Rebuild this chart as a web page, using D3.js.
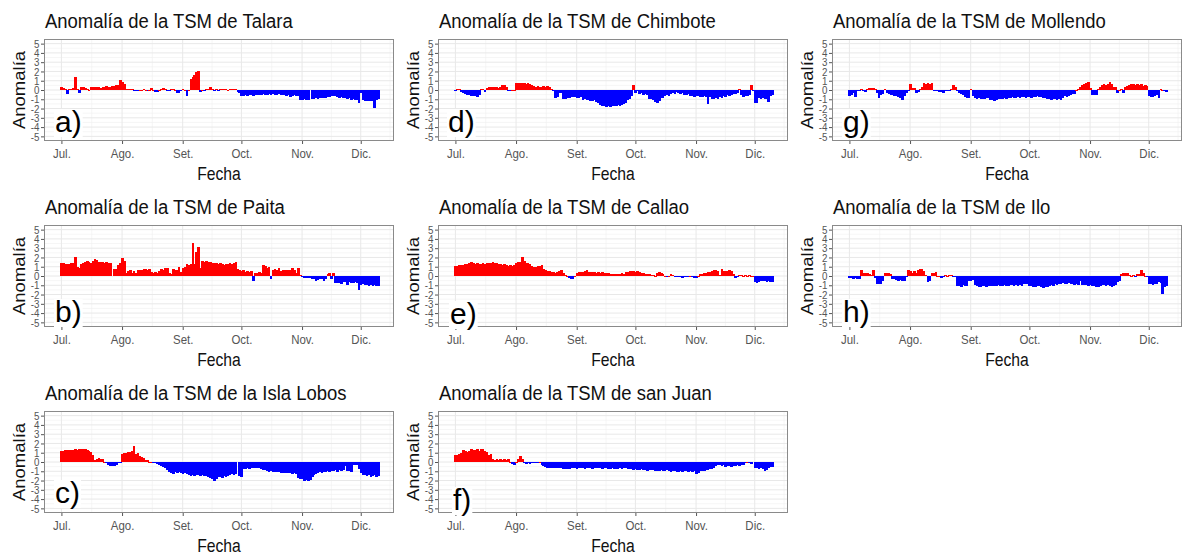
<!DOCTYPE html>
<html><head><meta charset="utf-8">
<script src="https://cdn.jsdelivr.net/npm/d3@7"></script>
<style>
body{margin:0;background:#fff}
svg text{font-family:"Liberation Sans",Arial,Helvetica,sans-serif}
</style>
</head><body>
<svg id="c" width="1184" height="556"></svg>
<script>
// ---------------- DATA ----------------
const stationNames = ["Talara","Paita","la Isla Lobos","Chimbote","Callao","san Juan","Mollendo","Ilo"];
const panelLetters = ["a)","b)","c)","d)","e)","f)","g)","h)"];
const monthLabels = ["Jul.","Ago.","Set.","Oct.","Nov.","Dic."];
const yTickValues = [-5,-4,-3,-2,-1,0,1,2,3,4,5];
const yTickLabels = ["-5","-4","-3","-2","-1","0","1","2","3","4","5"];
const xTitle = "Fecha";
const yTitle = "Anomalía";

// daily anomalies from 1 Jul to 10 Dec (null = missing day)
const talara = [
0.3,0.25,0.15,-0.45,0.1,0.15,0.2,1.4,0.1,-0.35,
0.3,0.3,0.25,0.1,0.05,0.3,0.35,0.3,0.35,0.3,
0.25,0.35,0.3,0.4,0.3,0.35,0.45,0.4,0.5,0.55,
1.05,0.9,0.6,0.15,0.15,0.1,0.1,-0.1,-0.15,-0.15,
0.05,0.05,0.1,0.05,-0.05,0.05,0.2,0.05,-0.2,-0.2,
0.05,0.1,0.25,0.1,-0.15,-0.1,0.1,0.1,0.05,-0.3,
-0.3,-0.1,0.1,0.05,-0.6,0.05,1.2,1.4,1.6,1.9,
2.05,-0.2,0.05,-0.15,0.1,0.15,0.35,0.15,-0.15,0.1,
-0.1,0.1,0.15,0.1,0.1,0.05,0.15,0.1,0.1,0.1,
-0.2,-0.35,-0.6,-0.65,-0.55,-0.6,-0.5,-0.55,-0.6,-0.5,
-0.55,-0.5,-0.5,-0.45,-0.55,-0.5,-0.45,-0.5,-0.45,-0.5,
-0.5,-0.45,-0.55,-0.55,-0.5,-0.6,-0.5,-0.8,-0.6,-0.55,
-0.6,-0.6,-1.05,-1.05,-1.0,-1.05,-1.05,null,-0.95,-0.95,
-0.9,-0.95,-0.85,-0.9,-0.85,-0.9,-0.8,-0.75,-0.7,-0.6,
-0.6,-0.75,-0.85,-0.8,-0.9,-0.85,-0.95,-0.9,-1.05,-1.0,
-1.1,-1.05,-1.45,-0.35,-1.1,-1.15,-1.15,-1.2,-1.15,-1.2,
-1.95,-1.05,-1.0];

const paita = [
1.4,1.45,1.3,1.25,1.3,1.35,1.45,2.1,1.0,0.9,
1.3,1.45,1.5,1.6,1.55,1.45,1.6,1.85,1.7,1.55,
1.5,1.55,1.45,1.5,1.45,1.4,null,0.75,0.8,1.2,
1.35,1.95,1.6,0.3,0.55,0.6,0.35,0.5,0.3,0.6,
0.7,0.65,0.75,0.8,0.7,0.75,0.4,0.35,0.4,0.3,
0.5,0.8,0.6,0.85,0.9,0.3,0.2,0.75,0.6,0.7,
1.0,0.4,0.9,1.0,1.3,1.2,1.3,3.6,1.3,2.6,
3.1,0.9,1.6,1.55,1.6,1.5,1.55,1.45,1.35,1.4,
1.3,1.35,1.25,1.2,1.3,1.25,1.35,1.3,1.45,1.5,
0.8,0.7,0.5,0.6,0.45,0.5,0.4,0.5,-0.55,0.3,
0.35,0.4,0.3,1.2,1.1,0.9,1.0,-0.3,0.7,0.8,
0.6,0.9,0.5,0.7,0.6,0.65,0.6,0.7,0.85,0.65,
0.3,0.9,0.1,-0.1,-0.2,-0.2,-0.2,-0.25,-0.3,-0.35,
-0.55,-0.4,-0.35,-0.3,-0.5,-0.3,0.25,0.35,-0.35,0.35,
-0.8,-0.75,-0.8,-0.85,-0.7,-0.65,-1.0,-0.65,-0.8,-0.75,
-0.7,-0.75,-1.5,-1.0,-0.9,-1.0,-0.95,-1.1,-1.0,-1.05,
-0.95,-1.1,-1.05];

const lobos = [
1.15,1.2,1.25,1.3,1.25,1.3,1.3,1.35,1.3,1.4,
1.35,1.4,1.4,1.3,1.2,1.05,0.75,0.2,0.35,0.4,
0.35,0.3,0.05,-0.15,-0.35,-0.4,-0.45,-0.4,-0.3,-0.15,
-0.05,0.85,0.95,1.0,1.05,1.1,1.2,1.75,0.9,0.95,
0.6,0.5,0.45,0.25,0.25,0.05,0,-0.1,-0.15,-0.25,
-0.3,-0.45,-0.55,-0.7,-0.85,-1.1,-1.2,-1.25,-1.1,-1.15,
-1.1,-1.2,-1.25,-1.15,-1.3,-1.35,-1.55,-1.4,-1.5,-1.35,
-1.45,-1.55,-1.4,-1.5,-1.55,-1.6,-1.7,-1.8,-2.05,-1.85,
-1.65,-1.6,-1.7,-1.55,-1.6,-1.5,-1.45,-1.3,-1.35,-1.25,
null,-1.55,-1.6,-0.8,-0.75,-0.7,-0.75,-0.65,-0.6,-0.7,
-0.65,-0.7,-0.8,-0.85,-0.9,-0.95,-1.05,-1.0,-1.1,-1.05,
-1.05,-1.1,-1.15,-1.15,-1.2,-1.2,-1.15,-1.2,-1.25,-1.2,
-1.3,-1.75,-1.85,-1.8,-2.0,-1.95,-2.1,-1.9,-1.6,-1.4,
-1.3,-1.2,-1.1,-1.15,-1.05,-1.1,-1.0,-1.05,-0.95,-1.0,
-0.9,-1.05,-0.9,-1.0,-0.9,-0.45,-1.0,-0.95,-1.05,-0.35,
-0.3,-0.35,-0.8,-1.2,-1.35,-1.4,-1.5,-1.45,-1.6,-1.55,
-1.45,-1.6,-1.55];

const chimbote = [
-0.05,0.1,0.15,-0.2,-0.35,-0.4,-0.5,-0.55,-0.6,-0.65,
-0.7,-0.8,-0.55,0.15,0.1,-0.2,0.25,0.3,0.35,0.35,
0.3,0.3,0.25,0.3,0.5,0.55,0.3,-0.1,-0.15,0.05,
0,0.75,0.8,0.8,0.75,0.8,0.7,0.75,0.65,0.55,
0.45,0.35,0.4,0.3,0.35,0.4,0.3,0.4,0.35,0.1,
-0.1,-0.85,-0.8,-0.3,-0.35,-1.0,-0.95,-0.9,-0.85,-0.8,
-0.75,-0.8,-0.85,-0.9,-0.8,-1.05,-1.0,-1.1,-1.05,-1.15,
-1.2,-1.1,-1.3,-1.35,-1.6,-1.7,-1.75,-1.8,-1.75,-1.8,
-1.7,-1.75,-1.7,-1.65,-1.7,-1.6,-1.55,-1.45,-1.1,-1.0,
-0.6,0.55,-0.3,-0.1,-0.4,-0.35,-0.5,-0.45,-0.5,-1.0,
-0.95,-1.05,-1.3,-1.35,-1.2,-0.9,-0.85,-0.6,-0.55,-0.65,
-0.4,-0.35,-0.4,-0.2,-0.35,-0.4,-0.3,-0.5,-0.55,-0.45,
-0.7,-0.65,-0.8,-0.7,-0.6,-0.75,-0.8,-0.7,-0.75,-1.55,
-0.8,-1.0,-0.95,-0.9,-1.0,-0.8,-0.9,-0.6,-0.75,-0.55,
-0.6,-0.5,-0.45,-0.4,-0.35,0.15,-0.5,-0.75,-0.7,-0.65,
-0.5,0.5,-0.1,-1.45,-1.4,-0.9,-1.0,-0.9,-0.95,-1.0,
-1.3,-0.6,-0.55];

const callao = [
1.05,1.1,1.15,1.15,1.2,1.25,1.3,1.45,1.5,1.35,
1.3,1.35,1.25,1.3,1.35,1.3,1.4,1.35,1.45,1.5,
1.4,1.35,1.3,1.25,1.2,1.25,1.2,1.1,1.15,1.1,
1.2,1.45,1.55,1.5,2.0,1.6,1.35,1.4,1.3,1.05,
1.0,0.95,1.05,1.1,1.15,0.75,0.6,0.55,0.5,0.45,
0.4,0.35,0.45,0.55,0.65,0.3,0.1,0.05,-0.25,-0.3,
-0.3,0.05,0.35,0.4,0.45,0.4,0.5,0.7,0.45,0.4,
0.45,0.4,0.35,0.4,0.35,0.4,0.3,0.35,0.3,0.25,
0.2,0.25,0.2,0.25,0.2,0.3,0.25,0.4,0.45,0.5,
0.55,0.5,0.45,0.5,0.4,0.3,0.3,0.25,0.2,0.2,
0.15,0.15,0.05,0.35,0.4,0.3,0.2,0.05,-0.15,0.05,
0.2,0.1,-0.05,-0.05,-0.1,-0.15,-0.2,-0.15,-0.1,-0.05,
0.05,-0.1,-0.2,-0.2,0.05,0.2,0.25,0.3,0.35,0.4,
0.45,0.55,0.6,0.6,0.5,0.1,0.75,0.55,0.5,0.55,
0.6,0.5,0.25,-0.2,-0.15,0.1,0.1,0.05,0.1,0.05,
0.1,0.05,0.05,-0.7,-0.75,-0.6,-0.5,-0.55,-0.5,-0.6,
-0.55,-0.65,-0.6];

const sanJuan = [
0.8,0.75,0.85,1.0,1.3,1.15,1.05,1.2,1.35,1.25,
1.3,1.45,1.2,1.35,1.4,1.2,1.05,0.75,0.85,0.3,
0.25,0.3,0.25,0.3,0.25,0.3,0.2,0.3,0.05,-0.25,
-0.3,0.05,0.35,0.6,0.3,-0.05,-0.2,-0.15,-0.2,-0.1,
-0.05,-0.05,-0.05,0.05,-0.3,-0.45,-0.55,-0.6,-0.65,-0.6,
-0.65,-0.7,-0.6,-0.65,-0.7,-0.75,-0.8,-0.75,-0.8,-0.7,
-0.65,-0.7,-0.75,-0.7,-0.65,-0.7,-0.75,-0.7,-0.65,-0.7,
-0.75,-0.7,-0.6,-0.65,-0.7,-0.75,-0.7,-0.65,-0.75,-0.8,
-0.7,-0.75,-0.8,-0.75,-0.7,-0.75,-0.65,-0.7,-0.75,-0.8,
-0.75,-0.85,-0.8,-0.9,-0.85,-0.8,-0.85,-0.9,-0.95,-0.9,
-0.85,-0.9,-0.95,-1.0,-0.95,-0.9,-0.95,-1.0,-0.9,-0.95,
-1.05,-1.0,-0.95,-1.05,-1.1,-1.0,-1.05,-1.0,-0.95,-1.05,
-1.0,-1.1,-1.0,-1.3,-1.2,-1.0,-0.95,-1.0,-0.9,-0.85,
-0.8,-0.75,-0.6,-0.45,-0.35,-0.35,-0.4,-0.35,-0.5,-0.45,
-0.4,-0.5,-0.4,-0.45,-0.35,-0.4,-0.3,-0.35,-0.15,0.05,
-0.15,-0.2,null,-0.65,-0.7,-0.75,-0.7,-0.8,-1.0,-0.85,
-0.6,-0.55,-0.5];

const mollendo = [
-0.6,-0.55,-0.3,-0.8,-0.15,-0.1,0.1,-0.15,-0.2,0.1,
0.2,0.25,0.2,0.1,-0.3,-0.85,-0.5,-0.45,0.15,-0.35,
-0.45,-0.5,-0.55,-0.6,-0.7,-0.75,-0.9,-1.05,-0.7,-0.3,
-0.15,0.7,0.25,0.2,-0.3,-0.25,0.1,0.3,0.75,0.7,
0.75,0.7,0.75,-0.05,-0.1,-0.1,-0.2,-0.25,-0.3,-0.1,
-0.05,-0.05,0.1,0.55,0.3,-0.15,-0.35,-0.4,-0.5,-0.8,
-0.85,-0.9,0.15,-0.6,-0.9,-0.95,-0.9,-1.0,-0.95,-1.0,
-0.9,-0.85,-1.1,-1.1,-1.15,-1.05,-1.0,-0.95,-1.0,-0.9,
-0.95,-0.85,-0.9,-0.8,-0.85,-0.9,-0.8,-0.85,-0.75,-0.8,
-0.9,-0.75,-0.8,-0.85,-0.75,-0.8,-0.7,-0.75,-0.8,-0.85,
-0.9,-0.95,-1.0,-1.05,-0.95,-1.0,-1.05,-0.95,-1.1,-0.9,
-0.7,-0.75,-0.6,-0.55,-0.45,-0.4,0.05,0.1,0.3,0.55,
0.6,0.75,0.9,0.2,-0.55,-0.5,-0.55,0.1,0.3,0.55,
0.6,0.5,0.6,0.85,0.7,0.35,0.3,-0.3,0.05,0.1,
-0.35,0.35,0.45,0.5,0.7,0.6,0.5,0.65,0.55,0.6,
0.45,0.5,0.4,-0.7,-0.8,-0.75,-0.7,-0.55,-0.9,0.1,
0.05,-0.15,-0.2];

const ilo = [
-0.2,-0.25,-0.3,-0.25,-0.3,-0.3,0.6,0.35,0.3,0.3,
0.25,0.1,0.6,-0.2,-0.9,-0.9,-0.85,-0.5,0.3,0.35,
0.35,0.25,-0.3,-0.35,-0.45,-0.5,-0.45,-0.55,-0.5,-0.15,
0.6,0.55,0.3,0.55,0.35,0.6,0.75,0.8,0.55,0.1,
-0.6,-0.55,0.35,0.35,0.4,0.05,0,-0.2,-0.15,0.1,
0.05,0.15,0.15,-0.05,-0.05,-1.05,-1.1,-1.2,-1.0,-1.1,
-1.05,-0.5,-0.55,-0.45,-1.0,-1.1,-1.2,-1.15,-1.1,-1.05,
-1.15,-1.1,-1.05,-1.1,-1.05,-1.1,-1.0,-1.05,-1.1,-1.0,
-1.05,-1.1,-1.0,-0.95,-1.05,-1.0,-1.1,-1.0,-1.05,-0.9,
-0.85,-0.9,-1.05,-1.1,-1.2,-1.15,-1.05,-1.1,-1.2,-1.25,
-1.15,-1.2,-1.1,-1.0,-1.05,-0.9,-0.95,-0.85,-0.9,-0.8,
-0.85,-0.9,-0.8,-0.85,-0.9,-0.95,-0.9,-1.0,-0.5,-0.95,
-1.0,-1.0,-1.05,-1.0,-1.1,-1.05,-1.15,-1.2,-1.1,-1.0,
-0.95,-1.05,-1.0,-1.1,-1.2,-1.1,-0.95,-0.7,-0.5,0.2,
0.3,0.35,0.3,0.1,0.05,0.1,-0.05,0.25,0.2,0.6,
0.3,0.05,-0.1,-0.85,-0.9,-0.95,-0.9,-0.85,-0.7,-0.75,
-1.9,-1.15,-1.1];

const series = [talara, paita, lobos, chimbote, callao, sanJuan, mollendo, ilo];

// ---------------- LAYOUT ----------------
const W = 350, H = 102;
const colLeft = [44, 438, 832];
const rowTop = [39, 225, 411];
const letterOffset = [[11,93],[11,97],[11,92],[10,93],[12,99],[15,99],[11,93],[11,97]];
const SX = 0.85; // horizontal squeeze of the text
const DAY = 864e5;
const t0 = Date.UTC(2019, 6, 1);
const dayDate = i => new Date(t0 + i * DAY);
const monthStarts = [6,7,8,9,10,11].map(m => new Date(Date.UTC(2019, m, 1)));
const minorX = monthStarts.map((d,i) => i < monthStarts.length-1
    ? new Date((d.getTime() + monthStarts[i+1].getTime())/2)
    : new Date(d.getTime() + 15*DAY));

const svg = d3.select("#c");

function sq(sel, x, y, rot, sx) {
  sel.attr("transform", `translate(${x},${y}) scale(${sx || SX},1)` + (rot ? ` rotate(${rot})` : ""));
}

series.forEach((vals, p) => {
  const col = Math.floor(p / 3), row = p % 3;
  const L = colLeft[col], T = rowTop[row];
  const g = svg.append("g").attr("transform", `translate(${L},${T})`);

  const x = d3.scaleUtc()
    .domain([new Date(t0 - 8.9*DAY), new Date(t0 + 170*DAY)])
    .range([0, W]);
  const y = d3.scaleLinear().domain([-5.5, 5.5]).range([H, 0]);

  g.append("rect").attr("width", W).attr("height", H).attr("fill", "#fff");

  // grid
  const grid = g.append("g");
  grid.selectAll(".ymin").data(d3.range(-4.5, 5, 1)).join("line")
    .attr("x1", 0).attr("x2", W).attr("y1", d => y(d)).attr("y2", d => y(d))
    .attr("stroke", "#f0f0f0").attr("stroke-width", 0.6);
  grid.selectAll(".xmin").data(minorX.filter(d => x(d) < W)).join("line")
    .attr("y1", 0).attr("y2", H).attr("x1", d => x(d)).attr("x2", d => x(d))
    .attr("stroke", "#f0f0f0").attr("stroke-width", 0.6);
  grid.selectAll(".ymaj").data(yTickValues).join("line")
    .attr("x1", 0).attr("x2", W).attr("y1", d => y(d)).attr("y2", d => y(d))
    .attr("stroke", "#e8e8e8").attr("stroke-width", 1);
  grid.selectAll(".xmaj").data(monthStarts).join("line")
    .attr("y1", 0).attr("y2", H).attr("x1", d => x(d)).attr("x2", d => x(d))
    .attr("stroke", "#e8e8e8").attr("stroke-width", 1);

  // bars
  const data = vals.map((v, i) => ({ d: dayDate(i), v })).filter(o => o.v !== null);
  g.append("g").attr("shape-rendering", "crispEdges").selectAll("rect").data(data).join("rect")
    .attr("x", o => x(new Date(o.d.getTime() - 0.5*DAY)))
    .attr("width", o => x(new Date(o.d.getTime() + 0.5*DAY)) - x(new Date(o.d.getTime() - 0.5*DAY)) + 0.7)
    .attr("y", o => y(Math.max(0, o.v)))
    .attr("height", o => Math.max(1, Math.abs(y(o.v) - y(0))))
    .attr("fill", o => o.v >= 0 ? "#ff0000" : "#0000ff");

  // panel border
  g.append("rect").attr("x", 0.5).attr("y", 0.5).attr("width", W - 1).attr("height", H - 1)
    .attr("fill", "none").attr("stroke", "#8a8a8a").attr("stroke-width", 1);

  // axes
  const xa = g.append("g").attr("transform", `translate(0,${H})`)
    .call(d3.axisBottom(x).tickValues(monthStarts).tickFormat((d, i) => monthLabels[i]).tickSize(3).tickPadding(4));
  xa.select(".domain").remove();
  xa.selectAll("line").attr("stroke", "#555");
  xa.selectAll("text").attr("font-size", 13.5).attr("fill", "#555")
    .attr("font-family", "Liberation Sans, Arial, sans-serif")
    .attr("transform", `scale(${SX},1)`);

  const ya = g.append("g")
    .call(d3.axisLeft(y).tickValues(yTickValues).tickFormat((d, i) => yTickLabels[i]).tickSize(3).tickPadding(1));
  ya.select(".domain").remove();
  ya.selectAll("line").attr("stroke", "#555");
  ya.selectAll("text").attr("font-size", 11.5).attr("fill", "#555")
    .attr("font-family", "Liberation Sans, Arial, sans-serif")
    .attr("x", -4.5 / SX).attr("transform", `scale(${SX},1)`);

  // titles
  svg.append("text").text("Anomalía de la TSM de " + stationNames[p])
    .attr("font-size", 21).attr("fill", "#111").call(sq, L + 1, T - 11, 0, 0.88);
  svg.append("text").text(xTitle).attr("text-anchor", "middle")
    .attr("font-size", 18.5).attr("fill", "#111").call(sq, L + W/2, T + H + 39);
  svg.append("text").text(yTitle).attr("text-anchor", "middle")
    .attr("font-size", 18.5).attr("fill", "#111").call(sq, L - 19, T + H/2, -90);

  // panel letter
  const [lx, ly] = letterOffset[p];
  const lt = svg.append("text").text(panelLetters[p])
    .attr("x", L + lx).attr("y", T + ly)
    .attr("font-family", "Lato, 'Open Sans', sans-serif")
    .attr("font-size", 30).attr("fill", "#000");
  const bb = lt.node().getBBox();
  svg.insert("rect", () => lt.node())
    .attr("x", bb.x - 1).attr("y", bb.y + 4).attr("width", bb.width + 2).attr("height", bb.height - 5)
    .attr("fill", "#fff");
});
</script>
</body></html>
